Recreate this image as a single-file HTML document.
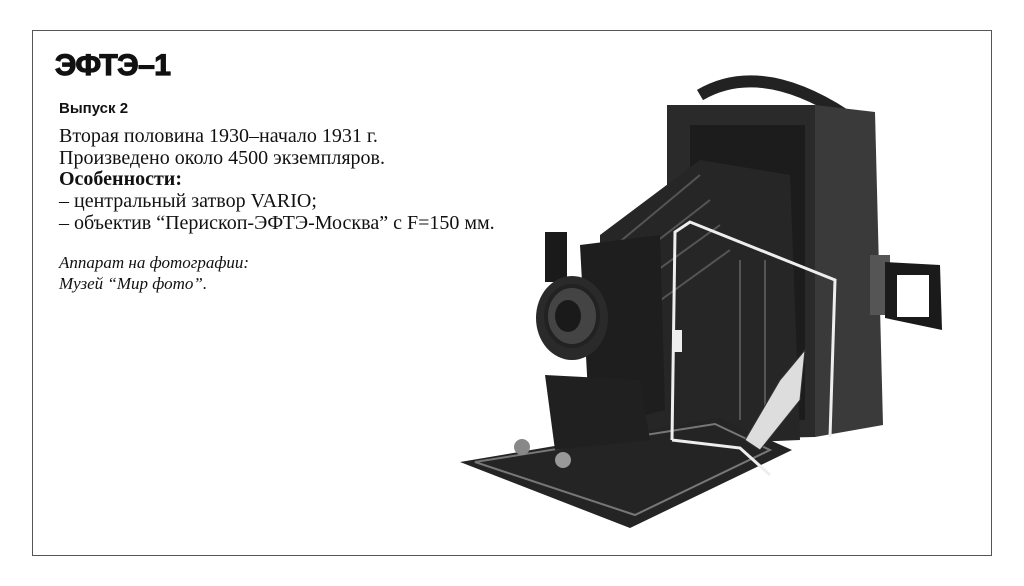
<!DOCTYPE html>
<html><head><meta charset="utf-8"><style>
html,body{margin:0;padding:0;background:#fff;width:1024px;height:586px;overflow:hidden}
.box{position:absolute;left:32px;top:30px;width:960px;height:526px;border:1px solid #555;box-sizing:border-box}
.t{position:absolute;left:59px;white-space:nowrap;color:#111}
h1{position:absolute;left:55px;top:49px;margin:0;font:bold 30px "Liberation Sans","DejaVu Sans",sans-serif;color:#111;-webkit-text-stroke:1.2px #111;letter-spacing:-0.5px}
.s{font:bold 15px "Liberation Sans",sans-serif}
.b{font:20px "Liberation Serif",serif}
.i{font:italic 17px "Liberation Serif",serif}
svg{position:absolute;left:0;top:0}
</style></head><body>
<div class="box"></div>
<h1>ЭФТЭ–1</h1>
<div class="t s" style="top:100px">Выпуск 2</div>
<div class="t b" style="top:125px">Вторая половина 1930–начало 1931 г.</div>
<div class="t b" style="top:147px">Произведено около 4500 экземпляров.</div>
<div class="t b" style="top:168px;font-weight:bold">Особенности:</div>
<div class="t b" style="top:190px">– центральный затвор VARIO;</div>
<div class="t b" style="top:212px">– объектив “Перископ-ЭФТЭ-Москва” с F=150 мм.</div>
<div class="t i" style="top:253px">Аппарат на фотографии:</div>
<div class="t i" style="top:274px">Музей “Мир фото”.</div>
<svg width="1024" height="586">
<path d="M700 95 Q760 60 845 115" stroke="#222" stroke-width="12" fill="none"/>
<polygon points="815,105 875,112 883,425 815,437" fill="#3a3a3a"/>
<polygon points="667,105 815,105 815,437 667,440" fill="#2a2a2a"/>
<polygon points="690,125 805,125 805,420 690,420" fill="#1c1c1c"/>
<rect x="870" y="255" width="20" height="60" fill="#555"/>
<polygon points="885,262 940,265 942,330 885,318" fill="#1a1a1a"/>
<rect x="897" y="275" width="32" height="42" fill="#fff"/>
<polygon points="600,235 700,160 790,175 800,440 680,445 600,420" fill="#262626"/>
<g stroke="#555" stroke-width="2">
<line x1="610" y1="250" x2="700" y2="175"/><line x1="620" y1="270" x2="710" y2="200"/>
<line x1="630" y1="290" x2="720" y2="225"/><line x1="640" y1="315" x2="730" y2="250"/>
<line x1="740" y1="260" x2="740" y2="420"/><line x1="765" y1="260" x2="765" y2="425"/>
</g>
<polygon points="460,462 720,418 792,450 630,528" fill="#242424"/>
<polygon points="475,462 715,424 770,450 635,515" fill="none" stroke="#777" stroke-width="2"/>
<polygon points="580,245 660,235 665,410 590,430" fill="#1e1e1e"/>
<polygon points="545,375 640,380 650,440 555,450" fill="#202020"/>
<rect x="545" y="232" width="22" height="50" fill="#1a1a1a"/>
<ellipse cx="572" cy="318" rx="36" ry="42" fill="#2a2a2a"/>
<ellipse cx="572" cy="316" rx="26" ry="30" fill="#444" stroke="#222" stroke-width="4"/>
<ellipse cx="568" cy="316" rx="13" ry="16" fill="#1a1a1a"/>
<path d="M745 440 L780 380 L805 350 L800 400 L760 450 Z" fill="#ddd" stroke="#333"/>
<path d="M672 440 L675 232 L690 222 L835 280 L830 437 M672 440 L740 448 L770 475" stroke="#eee" stroke-width="3" fill="none"/>
<rect x="672" y="330" width="10" height="22" fill="#eee"/>
<circle cx="522" cy="447" r="8" fill="#888"/><circle cx="563" cy="460" r="8" fill="#999"/>
</svg>
</body></html>
